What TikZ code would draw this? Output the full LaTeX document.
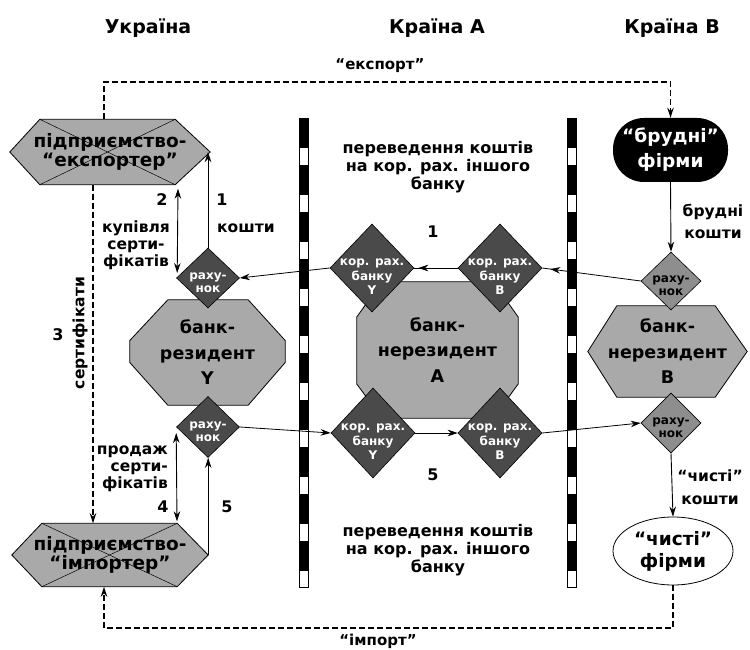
\documentclass[tikz,border=0pt]{standalone}
\usepackage{fontspec}
\setmainfont{DejaVu Sans}
\usetikzlibrary{shapes.geometric,arrows.meta,calc,backgrounds,decorations.markings}
\definecolor{hexgray}{HTML}{A9A9A9}
\definecolor{dkd}{HTML}{4A4A4A}
\definecolor{ltd}{HTML}{8E8E8E}
\begin{document}
\begin{tikzpicture}[x=1pt,y=-1pt,
  >={Stealth[length=10pt,width=6.5pt]},
  hdr/.style={font=\fontsize{19}{22}\selectfont\bfseries},
  txt/.style={font=\fontsize{15.5}{17}\selectfont\bfseries, align=center, inner sep=0},
  num/.style={font=\fontsize{16}{17}\selectfont\bfseries, inner sep=0},
  midtxt/.style={font=\fontsize{16}{18}\selectfont\bfseries, align=center, inner sep=0},
  hexbox/.style={inner sep=0, align=center, font=\fontsize{18.5}{18.5}\selectfont\bfseries},
  bankbox/.style={inner sep=0, align=center, font=\fontsize{17.5}{25.5}\selectfont\bfseries},
  hexfill/.style={fill=hexgray, draw=black, line width=0.8pt},
  darkd/.style={diamond, fill=dkd, draw=black, line width=0.6pt, inner sep=0},
  lightd/.style={diamond, fill=ltd, draw=black, line width=0.6pt, inner sep=0},
  rtxtw/.style={text=white, font=\fontsize{12}{13}\selectfont\bfseries, align=center, inner sep=0, yshift=-5pt},
  rtxtb/.style={text=black, font=\fontsize{12}{13}\selectfont\bfseries, align=center, inner sep=0, yshift=-5pt},
  ktxt/.style={text=white, font=\fontsize{12}{14.5}\selectfont\bfseries, align=center, inner sep=0, yshift=-9pt},
  dashline/.style={line width=1.7pt, dash pattern=on 6pt off 3pt},
  conn/.style={line width=0.9pt},
  flow/.style={line width=0.8pt},
  markend/.style={postaction={decorate}, decoration={markings, mark=at position #1 with {\arrow{>}}}}
]
\useasboundingbox (0,0) rectangle (750,650);

% headers
\node[hdr] (hUA) at (148,28) {Україна};
\node[hdr] (hA) at (437,28) {Країна A};
\node[hdr] (hB) at (672,28) {Країна B};

% barriers
\foreach \bx in {303.5,571.5}{
  \fill[white] (\bx-4.5,118) rectangle (\bx+4.5,587);
  \draw[line width=9pt, dash pattern=on 30pt off 17pt] (\bx,118) -- (\bx,587);
  \draw[line width=0.8pt] (\bx-4.5,118) rectangle (\bx+4.5,587);
}

% hexagon / bank nodes
\node[hexbox, minimum width=200, minimum height=65] (exp) at (110,152) {підприємство-\\“експортер”};
\node[hexbox, minimum width=196, minimum height=63] (imp) at (110,555) {підприємство-\\“імпортер”};
\node[bankbox, minimum width=155, minimum height=105] (bY) at (207.5,352.5) {банк-\\резидент\\Y};
\node[bankbox, minimum width=161, minimum height=136] (bA) at (437.5,350) {банк-\\нерезидент\\A};
\node[bankbox, minimum width=159, minimum height=91] (bB) at (667.5,351.5) {банк-\\нерезидент\\B};

\begin{scope}[on background layer]
  \filldraw[hexfill] (exp.west) -- ($(exp.north west)+(30,0)$) -- ($(exp.north east)+(-35,0)$) -- (exp.east)
     -- ($(exp.south east)+(-35,0)$) -- ($(exp.south west)+(30,0)$) -- cycle;
  \draw[line width=0.5pt] ($(exp.north west)+(30,0)$) -- ($(exp.south east)+(-35,0)$)
     ($(exp.north east)+(-35,0)$) -- ($(exp.south west)+(30,0)$);
  \filldraw[hexfill] (imp.west) -- ($(imp.north west)+(30,0)$) -- ($(imp.north east)+(-31,0)$) -- (imp.east)
     -- ($(imp.south east)+(-31,0)$) -- ($(imp.south west)+(30,0)$) -- cycle;
  \draw[line width=0.5pt] ($(imp.north west)+(30,0)$) -- ($(imp.south east)+(-31,0)$)
     ($(imp.north east)+(-31,0)$) -- ($(imp.south west)+(30,0)$);
  \filldraw[hexfill] ($(bY.north west)+(38,0)$) -- ($(bY.north east)+(-37,0)$) -- ($(bY.east)+(0,-12)$)
     -- ($(bY.east)+(0,10)$) -- ($(bY.south east)+(-37,0)$) -- ($(bY.south west)+(38,0)$)
     -- ($(bY.west)+(0,10)$) -- ($(bY.west)+(0,-12)$) -- cycle;
  \filldraw[hexfill] ($(bA.north west)+(25,0)$) -- ($(bA.north east)+(-25,0)$) -- ($(bA.east)+(0,-33)$)
     -- ($(bA.east)+(0,34)$) -- ($(bA.south east)+(-25,0)$) -- ($(bA.south west)+(25,0)$)
     -- ($(bA.west)+(0,34)$) -- ($(bA.west)+(0,-33)$) -- cycle;
  \filldraw[hexfill] (bB.west) -- ($(bB.north west)+(29,0)$) -- ($(bB.north east)+(-32,0)$) -- (bB.east)
     -- ($(bB.south east)+(-32,0)$) -- ($(bB.south west)+(29,0)$) -- cycle;
\end{scope}

% diamonds
\node[darkd, minimum width=63, minimum height=60, label={[rtxtw]center:раху-\\нок}] (rahY) at (208,278) {};
\node[darkd, minimum width=63, minimum height=61, label={[rtxtw]center:раху-\\нок}] (rahY2) at (208,427) {};
\node[darkd, minimum width=84, minimum height=88, label={[ktxt]center:кор. рах.\\банку\\Y}] (korY) at (372,268) {};
\node[darkd, minimum width=84, minimum height=88, label={[ktxt]center:кор. рах.\\банку\\B}] (korB) at (500,268) {};
\node[darkd, minimum width=84, minimum height=90, label={[ktxt]center:кор. рах.\\банку\\Y}] (korY2) at (373,433) {};
\node[darkd, minimum width=84, minimum height=90, label={[ktxt]center:кор. рах.\\банку\\B}] (korB2) at (500,433) {};
\node[lightd, minimum width=60, minimum height=58, label={[rtxtb]center:раху-\\нок}] (rahB) at (671,281) {};
\node[lightd, minimum width=60, minimum height=60, label={[rtxtb]center:раху-\\нок}] (rahB2) at (671,423) {};

% firms
\node[fill=black, rounded corners=31pt, minimum width=115, minimum height=64, inner sep=0,
      text=white, align=center, font=\fontsize{18.5}{25}\selectfont\bfseries] (brud) at (670.5,150) {“брудні”\\фірми};
\node[ellipse, draw=black, line width=0.8pt, fill=white, minimum width=120, minimum height=68, inner sep=0,
      align=center, font=\fontsize{18.5}{22}\selectfont\bfseries] (chist) at (673,551) {“чисті”\\фірми};

% dashed export / import / certificates
\coordinate (exline) at (380,82);
\coordinate (imline) at (380,628);
\draw[dashline,->] ($(exp.north)+(-6,0)$) |- (exline) -| (brud.north);
\draw[dashline,->] (chist.south) |- (imline) -| ($(imp.south)+(-6,0)$);
\draw[dashline,->] ($(exp.south)+(-17,0)$) -- ($(imp.north)+(-17,0)$);
\node[txt, font=\fontsize{15}{17}\selectfont\bfseries] (lexp) at (380,66) {“експорт”};
\node[txt, font=\fontsize{15}{17}\selectfont\bfseries] (limp) at (378,641) {“імпорт”};
\node[txt, rotate=90] (lcert) at (80,333) {сертифікати};
\node[num] (n3) at (58,335) {3};

% left vertical arrows
\draw[conn,<->] ($(exp.south)+(68,4)$) -- ($(rahY.west)+(1,-5)$);
\draw[conn,->] (rahY.north) -- (rahY.north |- exp.east);
\draw[conn,<->] ($(rahY2.west)+(0,6)$) -- ($(imp.north)+(67,-2)$);
\draw[conn,->] (imp.east) -- (imp.east |- rahY2.south);
\node[num] (n1) at (222,200) {1};
\node[num] (n2) at (162,200) {2};
\node[num] (n4) at (163,507) {4};
\node[num] (n5) at (227,507) {5};
\node[txt] (lkup) at (136,245) {купівля\\серти-\\фікатів};
\node[txt, anchor=west] (lkosh) at (217,228) {кошти};
\node[txt, align=right, anchor=east] (lprod) at (168,469) {продаж\\серти-\\фікатів};

% horizontal flows
\draw[flow, markend=-8pt] (rahB.west) -- (korB.east);
\draw[flow, markend=-4pt] (korB.west) -- (korY.east);
\draw[flow, ->] (korY.west) -- (rahY.east);
\draw[flow, ->] (rahY2.east) -- (korY2.west);
\draw[flow, ->] (korY2.east) -- (korB2.west);
\draw[flow, ->] (korB2.east) -- (rahB2.west);

% middle labels
\node[midtxt] (ltop) at (438,167) {переведення коштів\\на кор. рах. іншого\\банку};
\node[midtxt] (lbot) at (438,550) {переведення коштів\\на кор. рах. іншого\\банку};
\node[num] (nm1) at (433,232) {1};
\node[num] (nm5) at (433,475) {5};

% right column arrows
\draw[conn,->] (brud.south) -- (rahB.north);
\draw[conn,->] (rahB2.south) -- (chist.north);
\node[txt, font=\fontsize{15.5}{22}\selectfont\bfseries] (lbk) at (713,221) {брудні\\кошти};
\node[txt, font=\fontsize{15.5}{23}\selectfont\bfseries] (lck) at (710,487) {“чисті”\\кошти};
\end{tikzpicture}
\end{document}
